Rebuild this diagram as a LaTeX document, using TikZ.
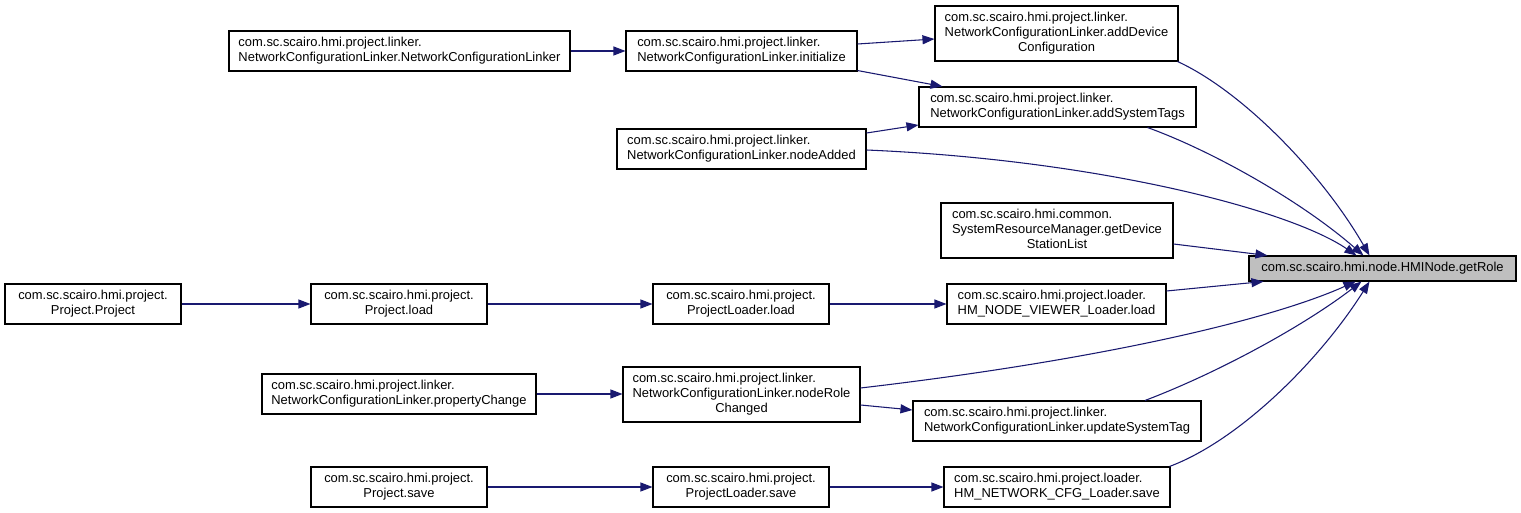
\documentclass[tikz,border=0pt]{standalone}
\usepackage{fontspec}
\setmainfont{Liberation Sans}
\usetikzlibrary{arrows.meta,calc}
\newcommand{\dxl}[2]{\begin{tabular}{@{}l@{}}#1\\\multicolumn{1}{@{}c@{}}{#2}\end{tabular}}
\def\px{0.75pt}
\definecolor{edgecol}{RGB}{25,25,112}
\tikzset{
  fn/.style={draw=black, line width=0.8pt, rectangle, inner sep=0pt, align=center,
    font=\fontsize{9.7pt}{11.25pt}\selectfont, fill=white},
  cur/.style={fn, fill=black!25},
  ed/.style={draw=edgecol, line width=0.8pt,
    -{Triangle[length=12*\px, width=9*\px]}},
}
\begin{document}
\begin{tikzpicture}[x=0.75pt, y=-0.75pt]
\useasboundingbox (0,0) rectangle (1521,513);
\fill[white] (0,0) rectangle (1521,513);
% nodes
\node[fn, minimum width=341*\px, minimum height=40*\px] (ctor) at (399.5,51) {\dxl{com.sc.scairo.hmi.project.linker.}{NetworkConfigurationLinker.NetworkConfigurationLinker}};
\node[fn, minimum width=231*\px, minimum height=40*\px] (init) at (741.5,51) {\dxl{com.sc.scairo.hmi.project.linker.}{NetworkConfigurationLinker.initialize}};
\node[fn, minimum width=243*\px, minimum height=55*\px] (adc) at (1056.5,33.5) {\dxl{com.sc.scairo.hmi.project.linker.\\NetworkConfigurationLinker.addDevice}{Configuration}};
\node[fn, minimum width=277*\px, minimum height=40*\px] (ast) at (1057.5,107) {\dxl{com.sc.scairo.hmi.project.linker.}{NetworkConfigurationLinker.addSystemTags}};
\node[fn, minimum width=249*\px, minimum height=40*\px] (nadd) at (741.5,149) {\dxl{com.sc.scairo.hmi.project.linker.}{NetworkConfigurationLinker.nodeAdded}};
\node[fn, minimum width=232*\px, minimum height=55*\px] (gds) at (1057,230.5) {\dxl{com.sc.scairo.hmi.common.\\SystemResourceManager.getDevice}{StationList}};
\node[cur, minimum width=267*\px, minimum height=25*\px] (role) at (1382.5,268.5) {com.sc.scairo.hmi.node.HMINode.getRole};
\node[fn, minimum width=176*\px, minimum height=40*\px] (pp) at (93,304) {\dxl{com.sc.scairo.hmi.project.}{Project.Project}};
\node[fn, minimum width=176*\px, minimum height=40*\px] (pload) at (399,304) {\dxl{com.sc.scairo.hmi.project.}{Project.load}};
\node[fn, minimum width=176*\px, minimum height=40*\px] (plload) at (741,304) {\dxl{com.sc.scairo.hmi.project.}{ProjectLoader.load}};
\node[fn, minimum width=219*\px, minimum height=40*\px] (hnv) at (1056.5,304) {\dxl{com.sc.scairo.hmi.project.loader.}{HM\_NODE\_VIEWER\_Loader.load}};
\node[fn, minimum width=274*\px, minimum height=40*\px] (pchg) at (399,394) {\dxl{com.sc.scairo.hmi.project.linker.}{NetworkConfigurationLinker.propertyChange}};
\node[fn, minimum width=237*\px, minimum height=55*\px] (nrc) at (741.5,394.5) {\dxl{com.sc.scairo.hmi.project.linker.\\NetworkConfigurationLinker.nodeRole}{Changed}};
\node[fn, minimum width=288*\px, minimum height=40*\px] (ust) at (1057,421) {\dxl{com.sc.scairo.hmi.project.linker.}{NetworkConfigurationLinker.updateSystemTag}};
\node[fn, minimum width=176*\px, minimum height=40*\px] (psave) at (399,487) {\dxl{com.sc.scairo.hmi.project.}{Project.save}};
\node[fn, minimum width=176*\px, minimum height=40*\px] (plsave) at (741,487) {\dxl{com.sc.scairo.hmi.project.}{ProjectLoader.save}};
\node[fn, minimum width=226*\px, minimum height=40*\px] (hnc) at (1057,487) {\dxl{com.sc.scairo.hmi.project.loader.}{HM\_NETWORK\_CFG\_Loader.save}};
% straight edges
\draw[ed] (ctor.east) -- (init.west);
\draw[ed] ($(init.east)+(0,-7)$) -- ($(adc.west)+(0,5.5)$);
\draw[ed] ($(init.south east)+(0,-1)$) -- ($(ast.north west)+(24,0)$);
\draw[ed] ($(nadd.east)+(0,-16)$) -- ($(ast.west)+(0,18)$);
\draw[ed] ($(gds.east)+(0,13.5)$) -- ($(role.north west)+(19,0)$);
\draw[ed] ($(hnv.east)+(0,-13)$) -- ($(role.south west)+(15,0)$);
\draw[ed] ($(nrc.east)+(0,10.5)$) -- ($(ust.west)+(0,-11)$);
\draw[ed] (pp.east) -- (pload.west);
\draw[ed] (pload.east) -- (plload.west);
\draw[ed] (plload.east) -- (hnv.west);
\draw[ed] (pchg.east) -- (pchg.east -| nrc.west);
\draw[ed] (psave.east) -- (plsave.west);
\draw[ed] (plsave.east) -- (hnc.west);
% curved edges into getRole
\draw[ed] ($(nadd.east)+(0,1)$) .. controls (1100,160) and (1290,210) .. ($(role.north west)+(108,0)$);
\draw[ed] ($(adc.south east)+(-1,0)$) .. controls (1240,90) and (1320,170) .. ($(role.north west)+(121,0)$);
\draw[ed] ($(ast.south)+(90,0)$) .. controls (1210,150) and (1300,200) .. ($(role.north west)+(115,0)$);
\draw[ed] ($(nrc.east)+(0,-6.5)$) .. controls (1100,360) and (1270,320) .. ($(role.south west)+(107,0)$);
\draw[ed] ($(ust.north)+(88,0)$) .. controls (1220,372) and (1305,325) .. ($(role.south west)+(113,0)$);
\draw[ed] ($(hnc.north east)+(-1,0)$) .. controls (1240,440) and (1320,360) .. ($(role.south west)+(121,0)$);
\end{tikzpicture}
\end{document}
